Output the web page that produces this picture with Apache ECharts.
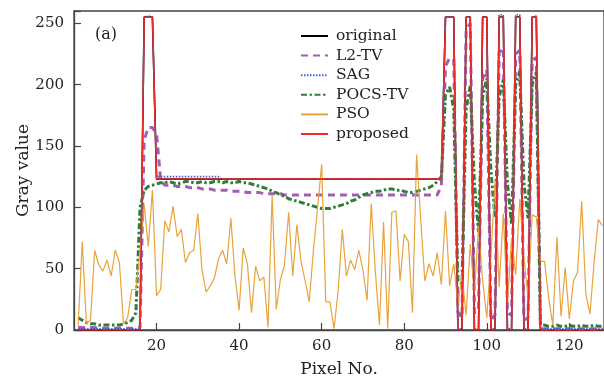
<!DOCTYPE html>
<html>
<head>
<meta charset="utf-8">
<script src="https://cdn.jsdelivr.net/npm/echarts@6/dist/echarts.min.js"></script>
<style>
  html, body { margin: 0; padding: 0; background: #fff; }
  #chart { width: 604px; height: 383px; }
</style>
</head>
<body>
<div id="chart"></div>
<script>
// pixel index 1..128
const pixels = Array.from({ length: 128 }, (_, i) => i + 1);

const original = [
  0, 0, 0, 0, 0, 0, 0, 0, 0, 0, 0, 0, 0, 0, 0, 0,
  255, 255, 255,
  123, 123, 123, 123, 123, 123, 123, 123, 123, 123, 123, 123, 123, 123, 123, 123, 123, 123, 123, 123,
  123, 123, 123, 123, 123, 123, 123, 123, 123, 123, 123, 123, 123, 123, 123, 123, 123, 123, 123, 123,
  123, 123, 123, 123, 123, 123, 123, 123, 123, 123, 123, 123, 123, 123, 123, 123, 123, 123, 123, 123,
  123, 123, 123, 123, 123, 123, 123, 123, 123, 123,
  255, 255, 255, 0, 0, 255, 255, 0, 0, 255, 255, 0, 0, 255, 255, 0, 0, 255, 255, 0, 0, 255, 255,
  0, 0, 0, 0, 0, 0, 0, 0, 0, 0, 0, 0, 0, 0, 0, 0
];

const l2tv = [
  2, 2, 2, 2, 2, 1.5, 1.5, 1.5, 1.5, 1.5, 1.5, 1.5, 1.5, 1.5, 1.5, 2,
  155, 165, 165, 160, 122, 118, 118, 118, 117, 117, 117, 116, 116, 116,
  115, 115, 115, 114, 114, 114, 114, 113, 113, 113,
  113, 112, 112, 112, 112, 111, 111, 111, 111, 111, 110, 110, 110, 110, 110,
  110, 110, 110, 110, 110, 110, 110, 110, 110, 110, 110, 110, 110, 110, 110,
  110, 110, 110, 110, 110, 110, 110, 110, 110, 110, 110, 110, 110, 110, 110,
  110, 110, 110, 118,
  215, 222, 220, 15, 10, 245, 250, 14, 16, 205, 212, 8, 12, 226, 230, 14, 12, 225, 228, 8, 10, 220, 222,
  1, 1, 1, 1, 1, 1, 1, 1, 1, 1, 1, 1, 1, 1, 1, 1
];

const sag = [
  1, 1, 1, 1, 1, 1, 1, 1, 1, 1, 1, 1, 1, 1, 1, 1,
  255, 256, 255,
  125, 125, 125, 125, 125, 125, 125, 125, 125, 125, 125, 125, 125, 125, 125, 125,
  123, 123, 123, 123, 123, 123, 123, 123, 123, 123, 123, 123, 123, 123, 123, 123, 123, 123, 123, 123,
  123, 123, 123, 123, 123, 123, 123, 123, 123, 123, 123, 123, 123, 123, 123, 123, 123, 123, 123, 123,
  123, 123, 123, 123, 123, 123, 123, 123, 123, 123, 123, 123, 123, 123,
  255, 255, 255, 1, 1, 255, 255, 1, 1, 255, 255, 1, 1, 257, 257, 1, 1, 257, 257, 1, 1, 255, 256,
  1, 1, 1, 1, 1, 1, 1, 1, 1, 1, 1, 1, 1, 1, 1, 1
];

const pocstv = [
  10, 8, 6, 5, 5, 4, 4, 4, 4, 4, 4, 5, 6, 8, 14, 100,
  114, 117, 118, 119, 120, 120, 121, 120, 119, 120, 121, 121, 120, 120,
  121, 120, 120, 121, 121, 120, 121, 120, 120, 121,
  120, 120, 119, 118, 117, 116, 115, 113, 112, 110,
  109, 107, 106, 105, 104, 103, 102, 101, 100, 99,
  99, 99, 100, 101, 102, 103, 105, 106, 108, 110,
  111, 112, 113, 113, 114, 115, 115, 114, 114, 113,
  112, 112, 113, 114, 115, 116, 118, 121, 125,
  192, 198, 180, 40, 38, 180, 199, 120, 80, 190, 205, 130, 92, 190, 204, 120, 86, 200, 211, 120, 91, 200, 210,
  5, 4, 3, 3, 4, 3, 3, 4, 3, 3, 4, 3, 3, 4, 3, 3
];

const pso = [
  3, 72, 5, 8, 65, 53, 48, 57, 44, 65, 55, 5, 10, 33, 33, 65,
  102, 68, 114, 28, 33, 89, 80, 101, 76, 82, 55, 63, 65, 95,
  49, 31, 36, 42, 58, 65, 54, 91, 44, 16,
  67, 54, 14, 52, 40, 43, 2, 110, 17, 41,
  53, 96, 44, 86, 56, 40, 23, 65, 99, 135,
  23, 23, 1, 32, 82, 44, 57, 49, 65, 49,
  24, 103, 48, 4, 88, 1, 96, 97, 40, 78,
  72, 14, 143, 90, 40, 54, 44, 63, 37, 97,
  36, 54, 20, 45, 12, 70, 30, 85, 40, 10,
  60, 121, 35, 95, 20, 75, 45, 107, 60, 25,
  94, 92, 56, 56, 26, 4, 76, 11, 51, 9,
  40, 47, 105, 29, 13, 55, 90, 85
];

const proposed = original.slice();

const yTicks = [0, 50, 100, 150, 200, 250];

const pairs = (vals) => pixels.map((p, i) => [p, vals[i]]);

const chart = echarts.init(document.getElementById('chart'));
const serif = 'DejaVu Serif';
const axisColor = '#444';

chart.setOption({
  animation: false,
  backgroundColor: '#fff',
  grid: {
    left: 74, right: -4, top: 11, bottom: 50,
    show: true, borderColor: axisColor, borderWidth: 1.3
  },
  legend: {
    orient: 'vertical',
    left: 300,
    top: 28,
    padding: 0,
    itemWidth: 27,
    itemHeight: 14,
    itemGap: 3.6,
    itemStyle: { opacity: 0 },
    textStyle: { fontFamily: serif, fontSize: 15.5, color: '#222', padding: [0, 0, 0, 3] },
    data: ['original', 'L2-TV', 'SAG', 'POCS-TV', 'PSO', 'proposed']
  },
  graphic: [{
    type: 'text', left: 95, top: 27,
    style: { text: '(a)', font: '16px "DejaVu Serif"', fill: '#222' }
  }],
  xAxis: {
    type: 'value',
    min: 0,
    max: 128.4,
    interval: 20,
    name: 'Pixel No.',
    nameLocation: 'middle',
    nameGap: 31,
    nameMoveOverlap: false,
    nameTextStyle: { fontFamily: serif, fontSize: 17, color: '#222' },
    axisLine: { lineStyle: { color: axisColor, width: 1.3 } },
    axisTick: { inside: true, length: 7, lineStyle: { color: axisColor, width: 1.2 } },
    axisLabel: {
      margin: 9, fontFamily: serif, fontSize: 15, color: '#222',
      showMinLabel: false, showMaxLabel: false
    },
    splitLine: { show: false }
  },
  yAxis: {
    type: 'value',
    min: 0,
    max: 260,
    interval: 50,
    name: 'Gray value',
    nameLocation: 'middle',
    nameGap: 42,
    nameMoveOverlap: false,
    nameTextStyle: { fontFamily: serif, fontSize: 17, color: '#222' },
    axisLine: { show: true, lineStyle: { color: axisColor, width: 1.3 } },
    axisTick: { show: true, inside: true, length: 7, lineStyle: { color: axisColor, width: 1.2 } },
    axisLabel: {
      margin: 10, fontFamily: serif, fontSize: 15, color: '#222',
      formatter: (v) => (yTicks.includes(v) ? String(v) : '')
    },
    splitLine: { show: false }
  },
  series: [
    {
      name: 'original', type: 'line', symbol: 'none', data: pairs(original),
      lineStyle: { color: '#000', width: 1.6 }, itemStyle: { color: '#000' }
    },
    {
      name: 'L2-TV', type: 'line', symbol: 'none', data: pairs(l2tv),
      lineStyle: { color: '#a65cb6', width: 3, type: [7, 5] }, itemStyle: { color: '#a65cb6' }
    },
    {
      name: 'SAG', type: 'line', symbol: 'none', data: pairs(sag),
      lineStyle: { color: '#3c5fcf', width: 1.6, type: [1.5, 1.5] }, itemStyle: { color: '#3c5fcf' }
    },
    {
      name: 'POCS-TV', type: 'line', symbol: 'none', data: pairs(pocstv),
      lineStyle: { color: '#2f7d38', width: 3, type: [6, 2.5, 2.5, 2.5] }, itemStyle: { color: '#2f7d38' }
    },
    {
      name: 'PSO', type: 'line', symbol: 'none', data: pairs(pso),
      lineStyle: { color: '#e8a33c', width: 1.2 }, itemStyle: { color: '#e8a33c' }
    },
    {
      name: 'proposed', type: 'line', symbol: 'none', data: pairs(proposed),
      lineStyle: { color: '#ee2a24', width: 1.5 }, itemStyle: { color: '#ee2a24' }
    }
  ]
});
</script>
</body>
</html>
